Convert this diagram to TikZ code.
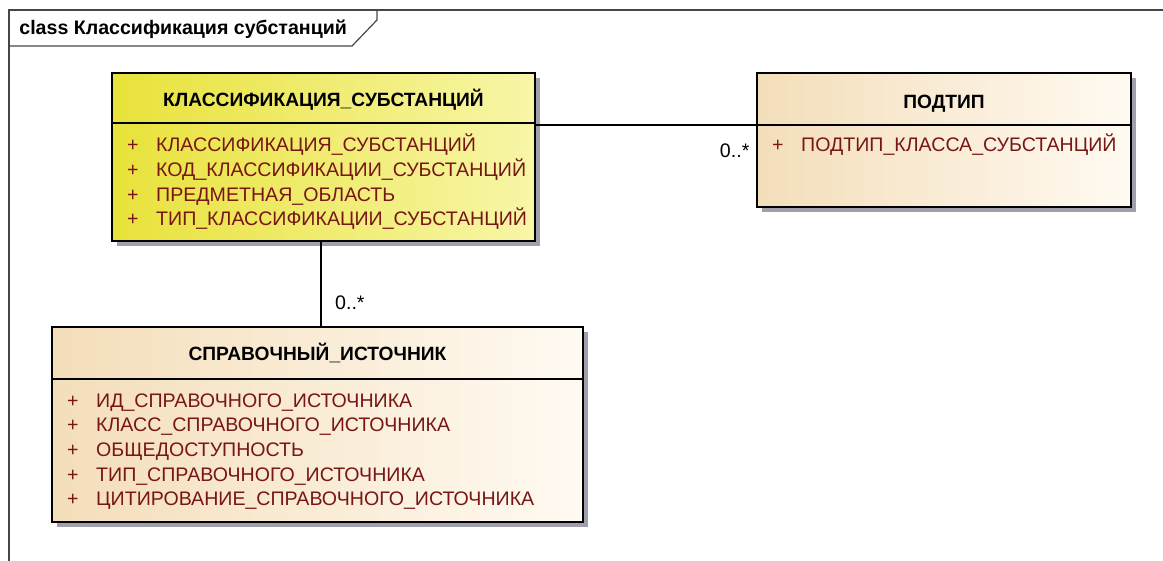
\documentclass[tikz,border=0pt]{standalone}
\usepackage{fontspec}
\setmainfont{Liberation Sans}
\usetikzlibrary{positioning, calc, shadows}
\definecolor{classyellowL}{RGB}{232,226,58}
\definecolor{classyellowR}{RGB}{248,246,168}
\definecolor{classbeigeL}{RGB}{244,222,186}
\definecolor{classbeigeR}{RGB}{255,250,242}
\definecolor{attrred}{RGB}{120,22,22}
\definecolor{framegray}{RGB}{70,70,70}
\definecolor{shadowgray}{RGB}{160,160,172}

\begin{document}
\begin{tikzpicture}[
        x=0.5pt, y=-0.5pt,
        every node/.style={font=\fontsize{9.8}{12.35}\selectfont},
        classbox/.style={rectangle, draw=black, line width=1.2pt, inner sep=0pt,
            drop shadow={shadow xshift=2.5pt, shadow yshift=-2.5pt, fill=shadowgray, opacity=1},
            left color=classbeigeL, right color=classbeigeR},
        headtext/.style={font=\fontsize{9.6}{11}\selectfont\bfseries, inner sep=0pt, anchor=base},
        attrtext/.style={text=attrred, align=left, anchor=base west, inner sep=0pt},
        multtext/.style={inner sep=0pt},
        assoc/.style={draw=black, line width=1pt}
    ]
        \useasboundingbox (0,0) rectangle (1163,561);

        % diagram frame
        \draw[framegray, line width=0.6pt] (9,561) -- (9,10) -- (1163,10);
        \draw[framegray, line width=0.6pt] (377,10) -- (377,20) -- (352,46) -- (9,46);
        \node[anchor=base west, inner sep=0pt, font=\fontsize{9.8}{11}\selectfont\bfseries] (title) at (19,35) {class Классификация субстанций};

        % classes
        \node[classbox, left color=classyellowL, right color=classyellowR,
              minimum width=211.5pt, minimum height=84pt] (klass) at (323.5,157) {};
        \node[classbox, minimum width=187pt, minimum height=67pt] (podtip) at (944,140) {};
        \node[classbox, minimum width=265.5pt, minimum height=97.5pt] (sprav) at (317.5,424.5) {};

        % headers
        \node[headtext] (klasshead) at ($(klass.north)+(0,35)$) {КЛАССИФИКАЦИЯ\_СУБСТАНЦИЙ};
        \node[headtext] (podtiphead) at ($(podtip.north)+(0,37)$) {ПОДТИП};
        \node[headtext] (spravhead) at ($(sprav.north)+(0,35)$) {СПРАВОЧНЫЙ\_ИСТОЧНИК};

        \draw[line width=1.2pt] ($(klass.north west)+(0,51)$) -- ($(klass.north east)+(0,51)$);
        \draw[line width=1.2pt] ($(podtip.north west)+(0,53)$) -- ($(podtip.north east)+(0,53)$);
        \draw[line width=1.2pt] ($(sprav.north west)+(0,53)$) -- ($(sprav.north east)+(0,53)$);

        % attributes (anchored on the baseline of the last line)
        \node[attrtext] (klassattr) at ($(klass.north west)+(16,154)$) {%
            \makebox[14.5pt][l]{+}КЛАССИФИКАЦИЯ\_СУБСТАНЦИЙ\\
            \makebox[14.5pt][l]{+}КОД\_КЛАССИФИКАЦИИ\_СУБСТАНЦИЙ\\
            \makebox[14.5pt][l]{+}ПРЕДМЕТНАЯ\_ОБЛАСТЬ\\
            \makebox[14.5pt][l]{+}ТИП\_КЛАССИФИКАЦИИ\_СУБСТАНЦИЙ};
        \node[attrtext] (podtipattr) at ($(podtip.north west)+(16,80)$) {%
            \makebox[14.5pt][l]{+}ПОДТИП\_КЛАССА\_СУБСТАНЦИЙ};
        \node[attrtext] (spravattr) at ($(sprav.north west)+(16,180)$) {%
            \makebox[14.5pt][l]{+}ИД\_СПРАВОЧНОГО\_ИСТОЧНИКА\\
            \makebox[14.5pt][l]{+}КЛАСС\_СПРАВОЧНОГО\_ИСТОЧНИКА\\
            \makebox[14.5pt][l]{+}ОБЩЕДОСТУПНОСТЬ\\
            \makebox[14.5pt][l]{+}ТИП\_СПРАВОЧНОГО\_ИСТОЧНИКА\\
            \makebox[14.5pt][l]{+}ЦИТИРОВАНИЕ\_СПРАВОЧНОГО\_ИСТОЧНИКА};

        % associations
        \draw[assoc] ($(podtip.north west)+(0,53)$) coordinate (podtipend) -- (podtipend -| klass.east);
        \draw[assoc] ($(klass.south west)+(210,0)$) coordinate (klassend) -- (klassend |- sprav.north);
        \node[multtext, anchor=east] (podtipmult) at ($(podtip.north west)+(-6,79)$) {0..*};
        \node[multtext, anchor=west] (spravmult) at ($(klassend)+(14,61)$) {0..*};
\end{tikzpicture}
\end{document}
